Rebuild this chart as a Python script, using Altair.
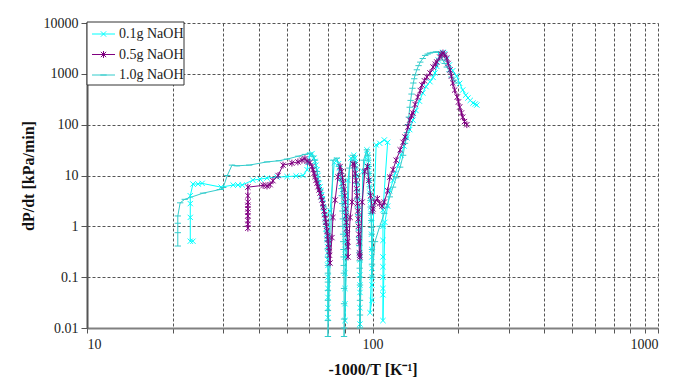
import altair as alt
import pandas as pd

# ---------------- data ----------------
series_names = ["0.1g NaOH", "0.5g NaOH", "1.0g NaOH"]
series_colors = ["#00FFFF", "#800080", "#33CCCC"]

x_01 = [23.5, 23.0, 23.0, 23.0, 23.0, 23.5, 24.5, 25.3, 29.5, 32.5, 33.8, 35.0, 38.1, 40.4, 42.7, 46.3, 50.2, 54.0, 57.1, 59.0, 59.4, 60.4, 61.4,
        62.4, 62.9, 63.4, 63.9, 64.4, 65.0, 65.5, 66.0, 66.4, 66.8, 67.2, 67.5, 67.9, 68.2, 68.5, 68.8, 69.1, 69.3, 69.5, 69.6,
        69.7, 69.8, 69.8, 69.8, 69.8, 69.8, 69.8,
        71.0, 73.5, 75.0,
        76.0, 76.5, 77.0, 77.5, 78.0, 78.5, 79.0, 79.3, 79.6, 79.9,
        80.1, 80.1, 80.1, 80.1, 80.1, 80.1, 80.1, 80.1, 80.1,
        82.0, 84.0, 86.0,
        86.8, 87.2, 87.5, 87.9, 88.2, 88.5, 88.8, 89.1, 89.3, 89.5, 89.7, 89.9, 90.0, 90.2,
        90.4, 90.4, 90.4, 90.4, 90.4, 90.4,
        92.5, 95.6,
        96.4, 96.7, 97.0, 97.3, 97.5, 97.8, 98.0, 98.3, 98.5, 98.8, 99.0, 99.2, 99.4, 99.5, 99.6, 99.6, 99.6, 99.6, 98.0,
        103.0, 106.0, 110.0, 113.0,
        108.8, 108.8, 108.8, 108.8, 108.8, 108.8, 108.8, 108.8, 108.8,
        110.5, 113.0, 115.0, 118.0, 120.0, 123.0, 126.0, 129.0, 132.0, 135.0, 138.6, 142.0, 146.0, 150.0, 154.0,
        159.0, 163.0, 165.5, 168.0, 170.0, 173.0, 176.5, 179.0, 182.0, 186.0, 191.0, 197.0, 202.0, 207.0, 212.0,
        216.0, 220.0, 225.0, 229.0, 232.0]
y_01 = [0.51, 0.51, 1.5, 2.8, 4.0, 6.8, 6.8, 7.0, 5.9, 6.5, 6.5, 6.5, 8.1, 8.5, 8.9, 9.3, 9.5, 9.8, 10.0, 13.0, 18.0, 25.0, 27.0,
        22, 19, 16, 13, 10, 7, 6, 5, 4.2, 3.5, 2.8, 2.3, 1.9, 1.5, 1.2, 0.9, 0.7, 0.55, 0.4, 0.3,
        0.22, 0.17, 0.1, 0.06, 0.04, 0.025, 0.016,
        2.0, 18, 20,
        17, 14, 12, 9, 7, 5.3, 4, 2.8, 2, 1.4,
        1, 0.7, 0.5, 0.35, 0.25, 0.12, 0.06, 0.03, 0.014,
        8, 22, 25,
        22, 18, 14, 10, 7, 5, 3.5, 2.5, 1.8, 1.3, 0.9, 0.6, 0.45, 0.3,
        0.22, 0.11, 0.07, 0.05, 0.025, 0.012,
        12, 32,
        25, 20, 15, 11, 8, 6, 4.5, 3.2, 2.4, 1.8, 1.3, 0.7, 0.35, 0.25, 0.15, 0.1, 0.07, 0.035, 0.02,
        40, 43, 50, 45,
        2.1, 1.0, 0.53, 0.25, 0.16, 0.1, 0.06, 0.045, 0.014,
        1.2, 2.5, 5.0, 8.0, 11, 16, 25, 38, 55, 80, 123, 190, 290, 420, 560,
        700, 850, 1040, 1400, 1870, 2300, 2650, 2500, 1900, 1500, 1150, 900, 650, 480, 380,
        335, 300, 266, 255, 243]

x_05 = [36.6, 36.6, 36.6, 36.6, 36.6, 36.6, 36.6, 36.6, 36.6, 36.6, 41.4, 42.7, 43.8, 44.8, 46.7, 48.6, 52.2, 54.8, 56.6, 58.0, 59.0, 60.4,
        61.4, 61.9, 62.4, 62.9, 63.4, 63.9, 64.4, 65.0, 65.5, 66.0, 66.5, 66.9, 67.2, 67.6, 68.0, 68.4, 68.7, 69.0, 69.3, 69.6,
        69.8, 70.1, 70.3, 70.5, 70.7, 71.0,
        72.1, 72.7, 74.0, 75.7, 77.0,
        78.0, 78.5, 79.0, 79.5, 80.0, 80.3, 80.6, 80.8, 81.0, 81.2, 81.5, 81.8, 82.0, 82.1,
        83.5, 84.8, 85.4, 86.5,
        87.0, 87.5, 87.9, 88.2, 88.5, 88.8, 89.1, 89.3, 89.5, 89.7, 90.0, 90.2, 90.4,
        92.0, 94.0, 96.0,
        97.0, 98.5, 100.0, 100.4, 102.0, 104.0, 106.0,
        108, 110, 113, 115, 118, 121, 125, 128, 130, 133,
        135, 137, 138.6, 141, 144, 147, 149, 152, 155, 159,
        163, 166, 168, 172, 174, 176.5, 179, 182, 184, 187,
        189, 191, 194, 198, 200, 202, 205, 207, 210, 214]
y_05 = [0.92, 1.1, 1.3, 1.6, 1.9, 2.2, 2.6, 3.0, 4.0, 5.9, 6.4, 6.2, 6.6, 7.9, 10.0, 16.0, 17.5, 18.5, 20.0, 21.5, 19.0, 18.0,
        15, 13, 11, 9.5, 8, 7, 6, 5.2, 4.5, 3.8, 3.3, 2.8, 2.4, 2.0, 1.7, 1.4, 1.2, 1.0, 0.8, 0.65,
        0.55, 0.45, 0.38, 0.32, 0.27, 0.19,
        0.6, 1.5, 3.3, 9.4, 15,
        12, 9, 7, 5.3, 4, 3, 2.2, 1.6, 1.2, 0.9, 0.7, 0.5, 0.4, 0.25,
        1.5, 3.0, 17, 16,
        11, 8, 5.5, 4, 2.8, 2, 1.4, 1, 0.7, 0.5, 0.3, 0.27, 0.25,
        3, 12, 15,
        8, 4, 2.0, 2.2, 3.0, 3.5, 2.8,
        2.5, 3.0, 5.0, 9.3, 13, 20, 32, 45, 57, 90,
        123, 150, 169, 250, 349, 470, 602, 730, 865, 1040,
        1360, 1550, 1710, 2140, 2400, 2570, 2350, 2050, 1600, 1190,
        900, 659, 480, 349, 280, 222, 170, 141, 115, 100]

x_10 = [20.8, 20.8, 20.8, 20.8, 21.2, 22.0, 25.5, 29.2, 30.0, 31.0, 32.2, 33.5, 37.0, 42.7, 47.0, 50.2, 55.0, 58.0, 60.4,
        61.9, 62.9, 63.9, 64.4, 65.5, 66.5, 67.6, 68.2, 68.7, 69.2, 69.5, 69.7, 69.8, 69.8, 69.8, 69.8, 69.8, 69.8, 69.8, 69.8, 69.8,
        72.7, 75.0,
        76.5, 77.0, 77.5, 77.8, 78.0, 78.3, 78.5, 78.7, 78.8, 78.9, 79.0, 79.1, 79.2, 79.3, 79.4, 79.5, 79.5, 79.5, 79.5, 79.5,
        83.0, 85.4,
        86.8, 87.2, 87.5, 87.9, 88.2, 88.5, 88.8, 89.1, 89.3, 89.5, 89.7, 89.9, 90.0, 90.1, 90.2, 90.4, 90.4, 90.4, 90.4, 90.4,
        93.0, 95.6,
        96.4, 96.7, 97.0, 97.3, 97.5, 97.8, 98.0, 98.3, 98.5, 98.8, 99.0, 99.2, 99.4, 99.5, 99.6, 99.6, 99.6,
        102, 106, 110, 112, 115, 118, 121, 125, 128, 130,
        131, 132, 133, 134, 135, 136, 137, 138, 139, 140,
        141, 143, 145, 147, 150, 153, 156, 159, 163, 167,
        170, 172, 174, 176, 179, 182, 186, 189, 193, 197.6]
y_10 = [0.41, 0.75, 1.15, 1.6, 2.9, 3.4, 4.5, 5.3, 5.8, 10.0, 16.0, 15.5, 16.0, 18.5, 19.5, 21.0, 24.0, 26.0, 27.6,
        24, 20, 12, 8, 5.2, 3.5, 2.4, 1.6, 1.16, 0.8, 0.53, 0.36, 0.25, 0.17, 0.12, 0.08, 0.055, 0.035, 0.022, 0.014, 0.0068,
        20, 22,
        15, 11, 8, 5.5, 4, 2.8, 2, 1.4, 1, 0.7, 0.5, 0.35, 0.25, 0.17, 0.12, 0.06, 0.03, 0.015, 0.01, 0.0068,
        14, 25,
        18, 14, 10, 7, 5, 3.5, 2.4, 1.7, 1.2, 0.85, 0.6, 0.42, 0.3, 0.21, 0.15, 0.1, 0.07, 0.035, 0.018, 0.01,
        20, 32,
        25, 20, 15, 11, 8, 6, 4.5, 3.2, 2.4, 1.8, 1.3, 0.95, 0.7, 0.5, 0.35, 0.18, 0.1,
        0.5, 1.0, 1.8, 2.4, 3.8, 5.9, 9, 14.6, 25, 43,
        55, 70, 100, 141, 220, 300, 400, 520, 660, 800,
        950, 1200, 1450, 1700, 2000, 2300, 2450, 2570, 2650, 2700,
        2680, 2650, 2400, 1870, 1600, 1360, 1100, 865, 750, 659]

x_ticks = [10, 20, 30, 40, 50, 60, 70, 80, 90, 100, 200, 300, 400, 500, 600, 700, 800, 900, 1000]
y_ticks = [0.01, 0.1, 1, 10, 100, 1000, 10000]

# ---------------- chart ----------------
SERIF = "Liberation Serif"
marker_paths = {
    "0.1g NaOH": "M-1,-1L1,1M-1,1L1,-1",
    "0.5g NaOH": "M-1,-1L1,1M-1,1L1,-1M0,-1.3L0,1.3",
    "1.0g NaOH": "M-1.2,0L1.2,0",
}
data_by_series = {
    "0.1g NaOH": (x_01, y_01),
    "0.5g NaOH": (x_05, y_05),
    "1.0g NaOH": (x_10, y_10),
}
color_by = dict(zip(series_names, series_colors))

xscale = alt.Scale(type="log", domain=[10, 1000], nice=False)
yscale = alt.Scale(type="log", domain=[0.01, 10000], nice=False)

xaxis = alt.Axis(
    values=x_ticks,
    labelExpr="(datum.value == 10 || datum.value == 100 || datum.value == 1000) ? format(datum.value, 'd') : ''",
    title="-1000/T [K\u207b\u00b9]",
    grid=True, gridDash=[3, 2], gridColor="#555555", gridWidth=1,
    domainColor="#808080", domainWidth=2,
    tickColor="#555555", tickSize=5,
    labelFont=SERIF, labelFontSize=14, labelColor="#222222", labelPadding=4,
    titleFont=SERIF, titleFontSize=16, titleFontWeight="bold", titleColor="#111111", titlePadding=10,
)
yaxis = alt.Axis(
    values=y_ticks,
    labelExpr="datum.value >= 1 ? format(datum.value, 'd') : (datum.value >= 0.1 ? '0.1' : '0.01')",
    title="dP/dt [kPa/min]",
    grid=True, gridDash=[3, 2], gridColor="#555555", gridWidth=1,
    domainColor="#555555", domainWidth=2,
    tickColor="#555555", tickSize=6,
    labelFont=SERIF, labelFontSize=14, labelColor="#222222", labelPadding=3,
    titleFont=SERIF, titleFontSize=16, titleFontWeight="bold", titleColor="#111111", titlePadding=7,
)

layers = []
for name in ["0.1g NaOH", "1.0g NaOH", "0.5g NaOH"]:
    xs, ys = data_by_series[name]
    assert len(xs) == len(ys), name
    df = pd.DataFrame({"x": xs, "y": ys, "idx": list(range(len(xs)))})
    base = alt.Chart(df).encode(
        x=alt.X("x:Q", scale=xscale, axis=xaxis),
        y=alt.Y("y:Q", scale=yscale, axis=yaxis),
        order=alt.Order("idx:Q"),
    )
    layers.append(base.mark_line(color=color_by[name], strokeWidth=1))
    layers.append(base.mark_point(shape=marker_paths[name], size=28, filled=False,
                                  color=color_by[name], strokeWidth=1, opacity=1))

# legend (drawn manually to show line + marker, Excel style)
one = pd.DataFrame({"a": [0]})
layers.append(alt.Chart(one).mark_rect(fill="white", stroke="#333333", strokeWidth=1).encode(
    x=alt.value(0), x2=alt.value(97), y=alt.value(-1), y2=alt.value(62)))
for i, name in enumerate(series_names):
    yy = 11 + 20.5 * i
    c = color_by[name]
    layers.append(alt.Chart(one).mark_rule(color=c, strokeWidth=1).encode(
        x=alt.value(5), x2=alt.value(28), y=alt.value(yy)))
    layers.append(alt.Chart(one).mark_point(shape=marker_paths[name], size=28, filled=False,
                                            color=c, strokeWidth=1, opacity=1).encode(
        x=alt.value(16.5), y=alt.value(yy)))
    layers.append(alt.Chart(one).mark_text(align="left", baseline="middle", font=SERIF,
                                           fontSize=14, color="#222222").encode(
        x=alt.value(32), y=alt.value(yy), text=alt.value(name)))

chart = alt.layer(*layers).properties(
    width=571, height=305,
    autosize=alt.AutoSizeParams(type="none"),
    padding={"left": 87, "top": 23, "right": 20, "bottom": 59},
    background="white",
).configure_view(stroke=None)

chart.save("out.html", embed_options={"renderer": "svg", "actions": False})
